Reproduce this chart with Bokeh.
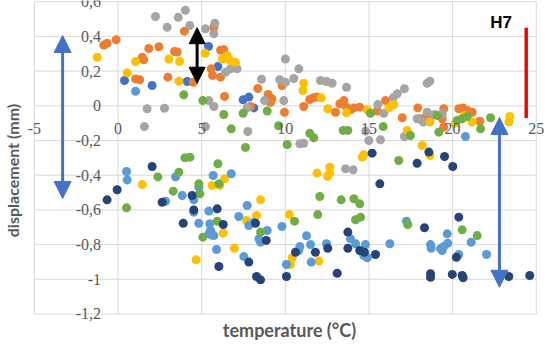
import math
from bokeh.plotting import figure
from bokeh.models import ColumnDataSource, LabelSet, Label, Arrow, NormalHead
from bokeh.embed import file_html
from bokeh.resources import INLINE

# ---------------- data ----------------
x_ticks = [-5, 0, 5, 10, 15, 20, 25]
x_tick_labels = ["-5", "0", "5", "10", "15", "20", "25"]
y_ticks = [0.6, 0.4, 0.2, 0.0, -0.2, -0.4, -0.6, -0.8, -1.0, -1.2]
y_tick_labels = ["0,6", "0,4", "0,2", "0", "-0,2", "-0,4", "-0,6", "-0,8", "-1", "-1,2"]

blue_x = [0.39, 2.04, 4.14, 5.41, 5.97, 7.48, 7.82, 8.12]
blue_y = [0.146, 0.117, 0.14, 0.342, 0.226, 0.035, 0.05, -0.012]

orange_x = [-0.85, -0.65, -0.11, 1.05, 1.3, 1.45, 1.54, 1.84, 2.44, 2.98, 3.38, 3.54, 3.97, 4.5,
            5.73, 5.57, 5.65, 6.13, 6.32, 6.13, 6.37, 7.92, 8.36, 8.98, 9.2, 9.12, 9.81, 9.95,
            11.1, 11.46, 11.67, 11.9, 13.0, 13.26, 13.5, 13.66, 13.9, 14.1, 14.45, 15.49, 15.99,
            16.99, 17.92, 18.04, 18.38, 18.64, 19.47, 19.38, 19.47, 20.37, 20.63, 20.87, 21.17, 21.63]
orange_y = [0.35, 0.36, 0.38, 0.155, 0.15, 0.28, 0.265, 0.33, 0.34, 0.165, 0.313, 0.31, 0.43, 0.136,
            0.453, 0.213, 0.175, 0.32, 0.323, 0.165, 0.054, -0.004, 0.1, 0.065, 0.04, 0.02, 0.117, -0.037,
            -0.004, 0.036, 0.046, 0.05, -0.037, 0.012, 0.03, -0.008, -0.023, -0.012, -0.008, -0.03, 0.03,
            -0.069, -0.012, -0.075, -0.069, -0.085, -0.017, -0.075, -0.123, -0.017, -0.012, -0.027, -0.037, -0.089]

gray_x = [1.74, 1.58, 2.24, 2.94, 2.78, 3.6, 4.03, 4.29, 5.23, 5.79, 5.73, 5.43, 5.73, 5.23, 6.43,
          6.72, 7.12, 7.72, 7.76, 8.58, 8.76, 9.67, 10.01, 10.81, 10.01, 10.51, 9.91, 10.87, 11.1,
          12.1, 12.46, 12.8, 13.66, 13.6, 14.06, 14.99, 15.69, 14.8, 15.89, 15.53, 16.45, 16.69,
          17.12, 17.12, 18.48, 18.64, 17.88, 18.24, 18.48, 18.92, 19.38]
gray_y = [-0.017, -0.12, 0.515, 0.453, -0.014, 0.51, 0.55, 0.463, 0.444, 0.476, 0.415, 0.03, -0.004,
          -0.12, 0.194, 0.213, 0.213, -0.012, -0.148, 0.153, 0.03, 0.15, 0.27, 0.213, 0.136, 0.157,
          0.03, -0.219, -0.216, 0.146, 0.14, 0.13, 0.107, -0.363, -0.369, -0.2, -0.196, -0.146, -0.043,
          0.007, 0.046, 0.069, 0.098, -0.177, 0.13, 0.142, -0.075, -0.094, -0.037, -0.05, -0.047]

yellow_x = [-1.24, 0.55, 1.05, 3.04, 3.68, 3.64, 5.21, 6.23, 6.53, 6.72, 7.02, 11.1, 11.05, 12.15,
            12.54, 13.66, 14.9, 11.9, 12.66, 12.66, 12.54, 16.19, 16.49, 17.29, 18.64, 18.18, 18.64,
            14.69, 14.6, 20.17, 20.71, 21.17, 23.42, 23.36,
            1.45, 5.63, 6.08, 6.37, 6.29, 4.67, 6.96, 8.52, 7.68, 8.28, 10.25, 10.41, 10.31, 12.0]
yellow_y = [0.28, 0.19, 0.255, 0.27, 0.255, 0.142, 0.303, 0.27, 0.29, 0.26, 0.25, 0.13, 0.088, 0.046,
            -0.017, -0.04, -0.023, -0.388, -0.388, -0.354, -0.407, -0.012, 0.007, -0.142, -0.094, -0.229,
            -0.286, -0.282, -0.296, -0.1, -0.056, -0.094, -0.062, -0.094,
            -0.454, -0.459, -0.459, -0.421, -0.734, -0.888, -0.821, -0.542, -0.661, -0.632, -0.627,
            -0.876, -0.915, -0.895]

lightblue_x = [1.05, 0.51, 0.55, 2.84, 3.44, 3.84, 4.53, 4.53, 4.83, 4.83, 5.69, 6.77, 5.43, 5.49,
               5.53, 5.57, 5.73, 5.43, 5.89, 7.52, 7.72, 7.22, 7.82, 8.12, 8.42, 8.92, 8.52, 9.8,
               11.27, 10.87, 10.81, 11.51, 12.46, 13.9, 14.2, 14.79, 14.69, 14.9, 16.25, 10.07, 11.55,
               17.24, 19.68, 21.11, 18.68, 18.72, 19.28, 19.47, 19.71, 19.38, 20.37, 22.03, 20.77]
lightblue_y = [0.084, -0.379, -0.427, -0.55, -0.41, -0.517, -0.542, -0.613, -0.677, -0.469, -0.402,
               -0.392, -0.607, -0.68, -0.719, -0.744, -0.748, -0.738, -0.828, -0.869, -0.575, -0.638,
               -0.69, -0.671, -0.767, -0.719, -0.786, -0.696, -0.749, -0.811, -0.834, -0.8, -0.795,
               -0.767, -0.795, -0.8, -0.863, -0.876, -0.795, -0.915, -0.901, -0.665, -0.738, -0.786,
               -0.8, -0.821, -0.824, -0.811, -0.792, -0.834, -0.857, -0.857, -0.177]

green_x = [3.93, 5.07, 6.32, 6.77, 7.62, 7.48, 8.92, 9.6, 4.0, 4.3, 2.38, 5.97, 11.46, 11.7, 10.11,
           13.46, 13.74, 15.09, 15.85, 17.48, 19.08, 19.18, 16.78, 20.27, 20.57, 20.87, 21.67, 22.27,
           0.51, 3.3, 3.64, 4.83, 4.89, 6.03, 5.93, 5.07, 8.52, 12.06, 13.34, 14.1, 14.45, 10.55,
           11.94, 14.2, 14.5, 17.32, 20.57, 21.47]
green_y = [0.063, 0.03, -0.05, -0.133, -0.24, -0.043, -0.03, -0.115, -0.3, -0.296, -0.41, -0.334,
           -0.158, -0.184, -0.223, -0.142, -0.142, -0.043, -0.12, -0.171, -0.056, -0.152, -0.315,
           -0.085, -0.075, -0.062, -0.133, -0.069,
           -0.588, -0.492, -0.383, -0.45, -0.507, -0.45, -0.665, -0.757, -0.728, -0.523, -0.542,
           -0.536, -0.565, -0.665, -0.627, -0.657, -0.642, -0.684, -0.715, -0.748]

darkblue_x = [2.04, -0.65, -0.05, 2.64, 4.43, 4.53, 3.9, 5.93, 6.29, 6.03, 7.82, 8.28, 8.52, 8.22,
              8.86, 15.65, 13.74, 10.61, 11.8, 12.54, 13.74, 14.45, 14.73, 15.39, 10.07, 13.1, 18.32,
              20.37, 20.23, 18.68, 18.68, 19.98, 20.57, 20.63, 23.36, 24.61, 15.19, 18.58, 19.52,
              17.88, 20.01]
darkblue_y = [-0.35, -0.542, -0.484, -0.556, -0.517, -0.6, -0.677, -0.594, -0.684, -0.926, -0.901,
              -0.984, -1.003, -0.677, -0.776, -0.45, -0.728, -0.844, -0.844, -0.821, -0.821, -0.834,
              -0.844, -0.857, -0.984, -0.965, -0.703, -0.642, -0.873, -0.968, -0.988, -0.972, -0.978,
              -0.991, -0.984, -0.978, -0.273, -0.267, -0.292, -0.331, -0.35]

# annotation arrows: (x, y_start, y_end)
blue_arrow_left = (-3.31, 0.405, -0.534)
blue_arrow_right = (22.8, -0.068, -1.046)
black_arrow = (4.73, 0.45, 0.13)
red_bar = (24.4, -0.07, 0.45)
h7_pos = (22.9, 0.48)
x_title_pos = (10.25, -1.29)
y_title_pos = (-6.28, -0.373)

series = [
    (blue_x, blue_y, "#4472C4"),
    (orange_x, orange_y, "#ED7D31"),
    (gray_x, gray_y, "#A5A5A5"),
    (yellow_x, yellow_y, "#FFC000"),
    (lightblue_x, lightblue_y, "#5B9BD5"),
    (green_x, green_y, "#70AD47"),
    (darkblue_x, darkblue_y, "#264478"),
]

FONT = "Lato"
TXT = "#595959"
GRID = "#D9D9D9"

# frame covers the whole canvas; ranges chosen so the gridded area sits like the reference
p = figure(width=550, height=340, x_range=(-7.023, 25.852), y_range=(-1.3528, 0.6069),
           x_axis_type=None, y_axis_type=None, output_backend="svg",
           toolbar_location=None, title_location=None,
           min_border_left=0, min_border_right=0, min_border_top=0, min_border_bottom=0)
p.outline_line_color = None
p.background_fill_color = "white"
p.border_fill_color = "white"

# grid lines from tick arrays
xmin, xmax = min(x_ticks), max(x_ticks)
ymin, ymax = min(y_ticks), max(y_ticks)
p.segment(x0=x_ticks, y0=[ymin] * len(x_ticks), x1=x_ticks, y1=[ymax] * len(x_ticks),
          line_color=GRID, line_width=1)
p.segment(x0=[xmin] * len(y_ticks), y0=y_ticks, x1=[xmax] * len(y_ticks), y1=y_ticks,
          line_color=GRID, line_width=1)

for xs, ys, c in series:
    p.scatter(xs, ys, size=9, fill_color=c, line_color=None)

# tick labels (axes cross at origin)
xsrc = ColumnDataSource(dict(x=x_ticks, y=[0] * len(x_ticks), t=x_tick_labels))
p.add_layout(LabelSet(x="x", y="y", text="t", source=xsrc, text_align="center", text_baseline="middle",
                      y_offset=-23, text_font=FONT, text_font_size="16px", text_color=TXT))
ysrc = ColumnDataSource(dict(x=[0] * len(y_ticks), y=y_ticks, t=y_tick_labels))
p.add_layout(LabelSet(x="x", y="y", text="t", source=ysrc, text_align="right", text_baseline="middle",
                      x_offset=-17, text_font=FONT, text_font_size="16px", text_color=TXT))

# axis titles
p.add_layout(Label(x=x_title_pos[0], y=x_title_pos[1], text="temperature (°C)", text_align="center",
                   text_baseline="middle", text_font=FONT, text_font_size="18px", text_font_style="bold",
                   text_color=TXT))
p.add_layout(Label(x=y_title_pos[0], y=y_title_pos[1], text="displacement (mm)", angle=math.pi / 2,
                   text_align="center", text_baseline="middle", text_font=FONT, text_font_size="16px",
                   text_font_style="bold", text_color=TXT))

# arrows
def dbl_arrow(spec, color, size):
    x, y0, y1 = spec
    p.add_layout(Arrow(start=NormalHead(size=size, fill_color=color, line_color=color),
                       end=NormalHead(size=size, fill_color=color, line_color=color),
                       x_start=x, y_start=y0, x_end=x, y_end=y1, line_color=color, line_width=3))

dbl_arrow(blue_arrow_left, "#4472C4", 17)
dbl_arrow(blue_arrow_right, "#4472C4", 17)
dbl_arrow(black_arrow, "black", 16)

p.segment(x0=[red_bar[0]], y0=[red_bar[1]], x1=[red_bar[0]], y1=[red_bar[2]], line_color="#FF0000", line_width=3.5)
p.add_layout(Label(x=h7_pos[0], y=h7_pos[1], text="H7", text_align="center", text_baseline="middle",
                   text_font="Liberation Sans", text_font_size="17px", text_font_style="bold", text_color="black"))

open("out.html", "w").write(file_html(p, INLINE))
